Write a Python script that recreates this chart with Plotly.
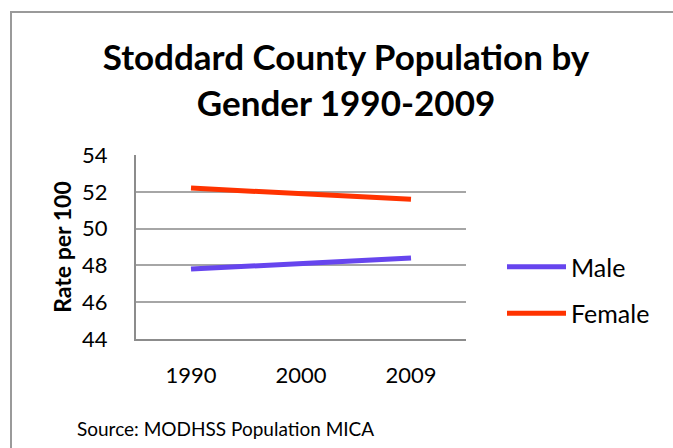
import plotly.graph_objects as go

years = ["1990", "2000", "2009"]
male = [47.8, 48.1, 48.4]
female = [52.2, 51.9, 51.6]
y_ticks = [44, 46, 48, 50, 52, 54]

FONT = "Lato"

fig = go.Figure()
fig.add_trace(go.Scatter(x=years, y=male, mode="lines", name="Male",
                         line=dict(color="#6645EE", width=5), legendgroup="m"))
fig.add_trace(go.Scatter(x=years, y=female, mode="lines", name="Female",
                         line=dict(color="#FF3300", width=5), legendgroup="f"))

fig.update_layout(
    width=673, height=448,
    margin=dict(l=136, r=207, t=155, b=109),
    paper_bgcolor="white", plot_bgcolor="white",
    font=dict(family=FONT, color="#000000"),
    title=dict(text="<b>Stoddard County Population by<br>Gender 1990-2009</b>",
               x=346/673, xanchor="center", y=1-70/448, yanchor="middle",
               font=dict(size=35, family=FONT)),
    showlegend=True,
    legend=dict(x=(502-136)/330, y=(339-290)/184, xanchor="left", yanchor="middle",
                font=dict(size=25, family=FONT), tracegroupgap=11,
                itemwidth=59, bgcolor="rgba(0,0,0,0)"),
    xaxis=dict(range=[-0.5, 2.5], showline=True, linecolor="#8c8c8c", linewidth=2,
               showgrid=False, ticks="outside", ticklen=16,
               tickcolor="rgba(0,0,0,0)", tickfont=dict(size=22)),
    yaxis=dict(range=[44, 54], tickvals=y_ticks, showline=True,
               linecolor="#8c8c8c", linewidth=2, showgrid=True,
               gridcolor="#a6a6a6", gridwidth=2, ticks="outside",
               ticklen=22, tickcolor="rgba(0,0,0,0)", tickfont=dict(size=22),
               title=dict(text="<b>Rate per 100</b>", font=dict(size=23),
                          standoff=4),
               zeroline=False),
)

fig.add_shape(type="rect", xref="paper", yref="paper",
              x0=(11-136)/330, x1=2.0, y0=-1.0, y1=(339-12)/184,
              line=dict(color="#9a9a9a", width=2), layer="below")

fig.add_annotation(text="Source: MODHSS Population MICA", xref="paper", yref="paper",
                   x=(75-136)/330, y=(339-428)/184, xanchor="left", yanchor="middle",
                   showarrow=False, font=dict(size=19, family=FONT))

fig.write_html("out.html", config={"displayModeBar": False},
               post_script="document.body.style.margin='0';")
